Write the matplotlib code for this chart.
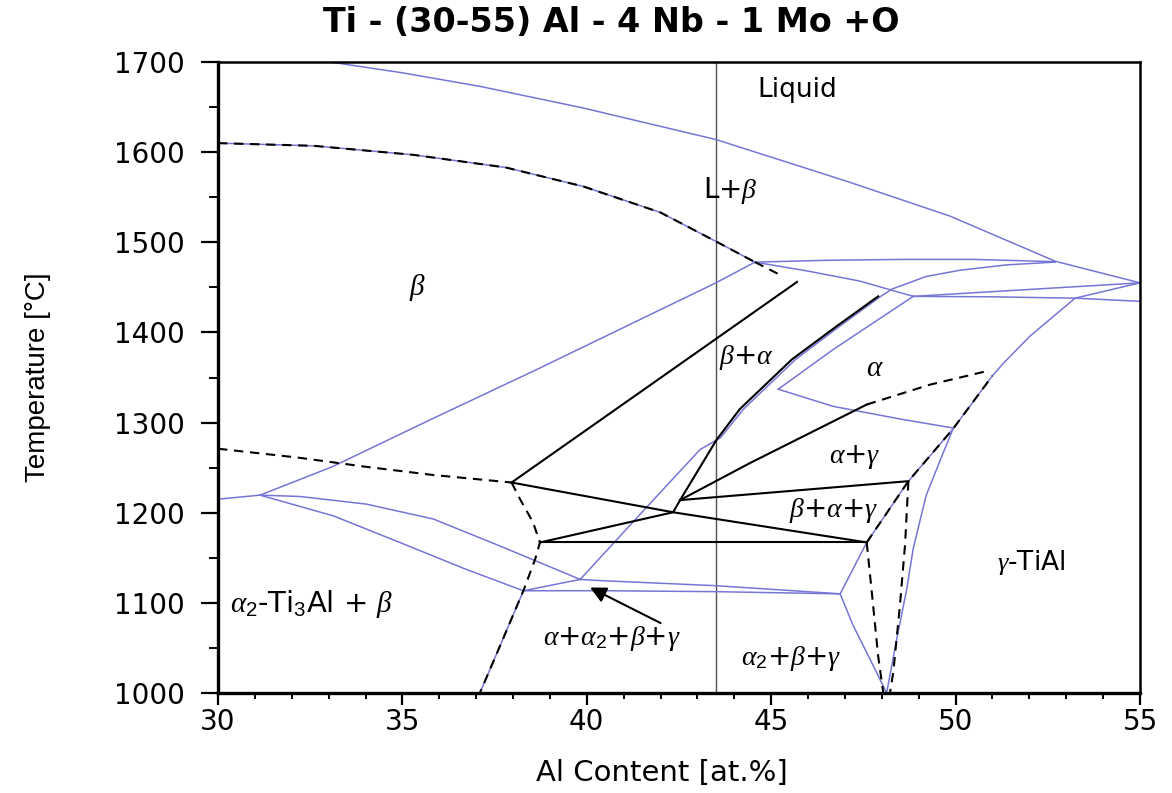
import matplotlib
matplotlib.use('Agg')
import matplotlib.pyplot as plt
from matplotlib.ticker import MultipleLocator

plt.rcParams['mathtext.fontset'] = 'custom'
plt.rcParams['mathtext.rm'] = 'Liberation Sans'
plt.rcParams['mathtext.it'] = 'Liberation Serif:italic'
plt.rcParams['mathtext.bf'] = 'Liberation Sans:bold'

# ---------------- data (Al at.% , Temperature °C) ----------------
liq_x = [33.04, 35.0, 37.1, 39.9, 43.5, 45.8, 47.1, 49.85, 52.7, 55.0]
liq_T = [1700, 1688, 1673, 1649, 1614, 1584, 1567, 1529, 1479, 1455]

btr_x = [30.0, 32.6, 35.3, 37.8, 39.9, 42.0, 43.5, 44.56]
btr_T = [1610, 1607, 1597, 1583, 1562, 1533, 1501, 1478]
btr_ext_x = [44.56, 45.28]
btr_ext_T = [1478, 1463]

ba_x = [30.0, 31.14, 33.1, 35.8, 38.65, 43.5, 44.56]
ba_T = [1215, 1219.5, 1251, 1304, 1359, 1455, 1478]

top_x = [44.56, 46.5, 48.5, 50.5, 52.7]
top_T = [1478, 1480, 1481, 1481, 1478.5]

b3_x = [44.56, 46.0, 47.4, 48.85]
b3_T = [1478, 1468, 1457, 1440]

b4_x = [48.85, 55.0]
b4_T = [1440, 1455]

b5_x = [48.85, 51.0, 53.24, 55.0]
b5_T = [1440, 1439.5, 1438, 1434.5]

hug_x = [39.82, 41.71, 43.07, 43.62, 44.25, 45.66, 46.86, 47.97, 48.27, 49.2, 50.12, 51.4, 52.7]
hug_T = [1126, 1210, 1270, 1283, 1315, 1370, 1407, 1440, 1448, 1462, 1469, 1475, 1478]

al_x = [45.19, 46.68, 48.85]
al_T = [1337, 1381, 1440]

ag_top_x = [45.19, 46.68, 48.49, 49.93]
ag_top_T = [1337, 1318, 1304, 1294]

gl_x = [46.87, 47.59, 48.72, 49.93, 51.0, 51.3, 52.02, 53.24, 55.0]
gl_T = [1110, 1167, 1235, 1293, 1352, 1366, 1396, 1438, 1455]

gr_x = [48.13, 48.4, 48.67, 48.85, 49.2, 49.58, 49.93]
gr_T = [1000, 1059, 1114, 1160, 1219, 1258, 1293]

vl_x = [46.87, 47.22, 47.77, 48.13]
vl_T = [1110, 1075, 1030, 1000]

lu_x = [39.82, 40.36, 43.52, 46.87]
lu_T = [1126, 1124.7, 1119, 1110]

ll_x = [38.28, 40.36, 43.52, 46.87]
ll_T = [1113.4, 1113.5, 1112.4, 1110]

sh_x = [38.28, 39.82]
sh_T = [1113.4, 1126]

a2u_x = [31.14, 32.22, 34.03, 35.84, 37.65, 39.82]
a2u_T = [1219.5, 1218, 1209.5, 1193, 1163, 1126]

a2l_x = [31.14, 33.13, 34.93, 36.74, 38.28]
a2l_T = [1219.5, 1196.5, 1167, 1137, 1113.4]

bl_x = [38.28, 37.65, 37.1]
bl_T = [1113.4, 1052.5, 1000]

# black solid lines
k1_x = [37.96, 45.7]
k1_T = [1233.5, 1456]
kA_x = [42.53, 43.52, 44.15, 45.56, 46.78, 47.9]
kA_T = [1214, 1281, 1315, 1370, 1407, 1440]
kd_x = [37.96, 42.34, 47.6]
kd_T = [1233.5, 1200.5, 1167]
kh_x = [38.73, 47.6]
kh_T = [1167, 1167]
ku_x = [38.73, 42.34, 42.53]
ku_T = [1167, 1200.5, 1214]
kg_x = [42.53, 48.72]
kg_T = [1214, 1235]
kg2_x = [42.53, 44.42, 47.59]
kg2_T = [1214, 1255, 1320]

# black dashed lines
dl_x = [30.0, 32.2, 34.0, 35.8, 37.96]
dl_T = [1271, 1261, 1251, 1242, 1233.5]
dm_x = [37.96, 38.19, 38.54, 38.73, 38.6, 38.28, 37.65, 37.1]
dm_T = [1233.5, 1215, 1189.5, 1167, 1148.5, 1113.4, 1052.5, 1000]
dag_x = [47.59, 49.3, 50.84]
dag_T = [1320, 1342, 1357]
dg_x = [47.59, 48.72, 49.93, 51.0]
dg_T = [1167, 1235, 1293, 1352]
dv1_x = [47.59, 47.72, 47.9, 48.04]
dv1_T = [1167, 1115, 1041, 1000]
dv2_x = [48.72, 48.63, 48.49, 48.31, 48.22]
dv2_T = [1235, 1165, 1097, 1023, 1000]

alloy_x = 43.5

labels = [
    ('Liquid', 45.70, 1669, 'center', 19),
    (r'L+$\beta$', 43.90, 1558, 'center', 20),
    (r'$\beta$', 35.42, 1450, 'center', 21),
    (r'$\beta$+$\alpha$', 44.32, 1372, 'center', 20),
    (r'$\alpha$', 47.81, 1361, 'center', 21),
    (r'$\alpha$+$\gamma$', 47.27, 1262, 'center', 20),
    (r'$\beta$+$\alpha$+$\gamma$', 46.70, 1202, 'center', 20),
    (r'$\gamma$-TiAl', 52.05, 1145, 'center', 19),
    (r'$\alpha_2$-Ti$_3$Al + $\beta$', 30.33, 1099, 'left', 21),
    (r'$\alpha$+$\alpha_2$+$\beta$+$\gamma$', 40.67, 1061, 'center', 20),
    (r'$\alpha_2$+$\beta$+$\gamma$', 45.53, 1038, 'center', 20),
]
arrow_tip = (40.09, 1117)
arrow_tail = (42.0, 1077.6)

# ---------------- figure ----------------
fig = plt.figure(figsize=(11.72, 7.93), dpi=100)
ax = fig.add_axes([218/1172, 1-693/793, (1140-218)/1172, (693-62)/793])
ax.set_xlim(30, 55)
ax.set_ylim(1000, 1700)

BLUE = '#7676d6'
blw = 1.1
blue_lines = [(liq_x, liq_T), (btr_x, btr_T), (ba_x, ba_T), (top_x, top_T),
              (b3_x, b3_T), (b4_x, b4_T), (b5_x, b5_T), (hug_x, hug_T),
              (al_x, al_T), (ag_top_x, ag_top_T), (gl_x, gl_T), (gr_x, gr_T),
              (vl_x, vl_T), (lu_x, lu_T), (ll_x, ll_T), (sh_x, sh_T),
              (a2u_x, a2u_T), (a2l_x, a2l_T), (bl_x, bl_T)]
for xs, ts in blue_lines:
    ax.plot(xs, ts, color=BLUE, lw=blw, solid_joinstyle='round', zorder=2)

ax.axvline(alloy_x, color='#505050', lw=1.0, zorder=1)

klw = 1.5
for xs, ts in [(k1_x, k1_T), (kA_x, kA_T), (kd_x, kd_T), (kh_x, kh_T),
               (ku_x, ku_T), (kg_x, kg_T), (kg2_x, kg2_T)]:
    ax.plot(xs, ts, color='black', lw=klw, zorder=3)

for xs, ts in [(dl_x, dl_T), (dm_x, dm_T), (dag_x, dag_T), (dg_x, dg_T),
               (dv1_x, dv1_T), (dv2_x, dv2_T), (btr_x, btr_T), (btr_ext_x, btr_ext_T)]:
    ax.plot(xs, ts, color='black', lw=klw, ls=(0, (4.5, 3.2)), zorder=4)

ax.annotate('', xy=arrow_tip, xytext=arrow_tail,
            arrowprops=dict(arrowstyle='-|>', color='black', lw=1.5,
                            mutation_scale=24, shrinkA=0, shrinkB=0), zorder=5)

for txt, x, t, ha, fs in labels:
    ax.text(x, t, txt, ha=ha, va='center', fontsize=fs, family='DejaVu Sans', zorder=6)

# axes styling
ax.xaxis.set_major_locator(MultipleLocator(5))
ax.xaxis.set_minor_locator(MultipleLocator(1))
ax.yaxis.set_major_locator(MultipleLocator(100))
ax.yaxis.set_minor_locator(MultipleLocator(50))
ax.tick_params(axis='x', which='major', direction='out', length=8.5, width=1.6, pad=2,
               labelsize=20, top=False)
ax.tick_params(axis='x', which='minor', direction='out', length=4.5, width=1.4, top=False)
ax.tick_params(axis='y', which='major', direction='out', length=12, width=1.6, pad=12,
               labelsize=20, right=False)
ax.tick_params(axis='y', which='minor', direction='out', length=6.5, width=1.4, right=False)
for lab in ax.get_xticklabels() + ax.get_yticklabels():
    lab.set_family('DejaVu Sans')
for s in ['left', 'bottom']:
    ax.spines[s].set_linewidth(2.4)
for s in ['top', 'right']:
    ax.spines[s].set_linewidth(1.8)

fig.text(611/1172, 1-22/793, 'Ti - (30-55) Al - 4 Nb - 1 Mo +O', ha='center', va='center',
         fontsize=24, fontweight='bold', family='DejaVu Sans')
fig.text(662/1172, 1-773/793, 'Al Content [at.%]', ha='center', va='center',
         fontsize=21, family='DejaVu Sans')
fig.text(38/1172, 1-377/793, 'Temperature [°C]', ha='center', va='center', rotation=90,
         fontsize=20, family=['Liberation Sans Narrow', 'Liberation Sans'])

fig.savefig('out.png', dpi=100)
